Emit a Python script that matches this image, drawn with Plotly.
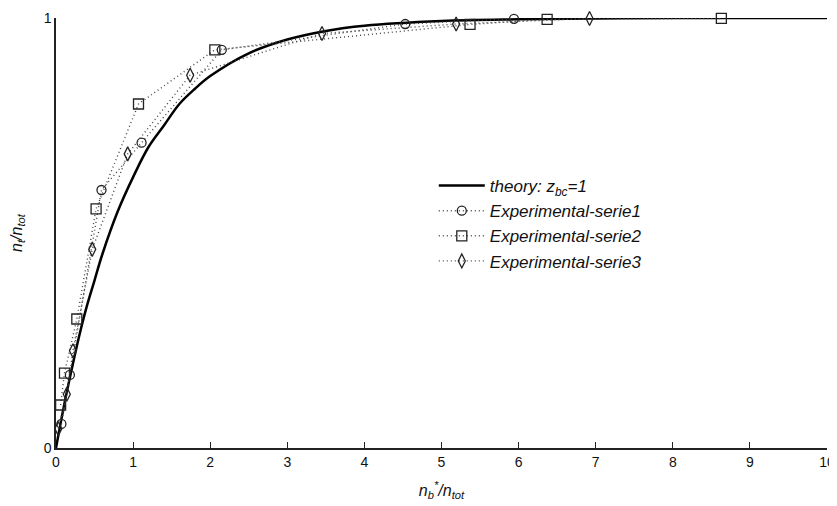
import plotly.graph_objects as go

# Theory curve values
theory_x = [0, 0.1, 0.2, 0.3, 0.4, 0.5, 0.6, 0.8, 1.0, 1.2, 1.4, 1.6, 1.8, 2.0,
            2.5, 3.0, 3.5, 4.0, 5.0, 6.0, 7.0, 8.0, 10.0]
theory_y = [0, 0.095, 0.18, 0.26, 0.33, 0.39, 0.45, 0.55, 0.63, 0.70, 0.75, 0.80,
            0.835, 0.865, 0.918, 0.95, 0.97, 0.982, 0.993, 0.997, 0.999, 1.0, 1.0]

# Experimental series
s1_x = [0.07, 0.18, 0.59, 1.11, 2.15, 4.53, 5.94]
s1_y = [0.056, 0.17, 0.60, 0.71, 0.926, 0.986, 0.998]

s2_x = [0.06, 0.11, 0.27, 0.52, 1.07, 2.06, 5.37, 6.37, 8.63]
s2_y = [0.10, 0.174, 0.30, 0.556, 0.80, 0.926, 0.985, 0.997, 0.999]

s3_x = [0.03, 0.14, 0.22, 0.47, 0.93, 1.74, 3.45, 5.19, 6.92]
s3_y = [0.045, 0.125, 0.226, 0.462, 0.684, 0.867, 0.964, 0.986, 0.999]

x_ticks = [0, 1, 2, 3, 4, 5, 6, 7, 8, 9, 10]
y_ticks = [0, 1]

FONT = "Liberation Sans, Arial, sans-serif"

fig = go.Figure()
fig.add_trace(go.Scatter(
    x=theory_x, y=theory_y, mode="lines", line_shape="spline",
    line=dict(color="black", width=2.5),
    name="<i>theory: z<sub>bc</sub>=1</i>", cliponaxis=False))

series = [
    (s1_x, s1_y, "circle-open", 9, "<i>Experimental-serie1</i>"),
    (s2_x, s2_y, "square-open", 10, "<i>Experimental-serie2</i>"),
    (s3_x, s3_y, "diamond-tall-open", 10, "<i>Experimental-serie3</i>"),
]
for xs, ys, sym, sz, nm in series:
    fig.add_trace(go.Scatter(
        x=xs, y=ys, mode="lines+markers", name=nm, cliponaxis=False,
        line=dict(color="#444444", width=1.4, dash="1px,3px"),
        marker=dict(symbol=sym, size=sz, color="#222222",
                    line=dict(color="#222222", width=1.3))))

# page body adds an 8px offset, so the figure is sized to fit the window
fig.update_layout(
    width=829, height=498,
    margin=dict(l=48, r=10, t=10, b=58),
    paper_bgcolor="white", plot_bgcolor="white",
    font=dict(family=FONT, size=14, color="#111111"),
    legend=dict(x=0.49, y=0.651, xanchor="left", yanchor="top",
                itemwidth=46,
                bgcolor="rgba(0,0,0,0)", font=dict(size=17)),
    showlegend=True,
)
fig.update_xaxes(
    range=[0, 10], tickvals=x_ticks, ticktext=[str(t) for t in x_ticks],
    showline=True, linecolor="#222222", linewidth=1.5, mirror=False,
    ticks="inside", ticklen=6, tickcolor="#222222", showgrid=False, zeroline=False,
    automargin=False, ticklabeloverflow="allow",
    title=dict(text="<i>n<sub>b</sub><sup>*</sup>/n<sub>tot</sub></i>", font=dict(size=16), standoff=16),
)
fig.update_yaxes(
    range=[0, 1], tickvals=y_ticks, ticktext=["0", "1"],
    showline=True, linecolor="#222222", linewidth=1.5, mirror=False,
    ticks="inside", ticklen=6, tickcolor="#222222", showgrid=False, zeroline=False,
    automargin=False,
    title=dict(text="<i>n<sub>t</sub>/n<sub>tot</sub></i>", font=dict(size=16), standoff=17),
)

fig.write_html("out.html")
